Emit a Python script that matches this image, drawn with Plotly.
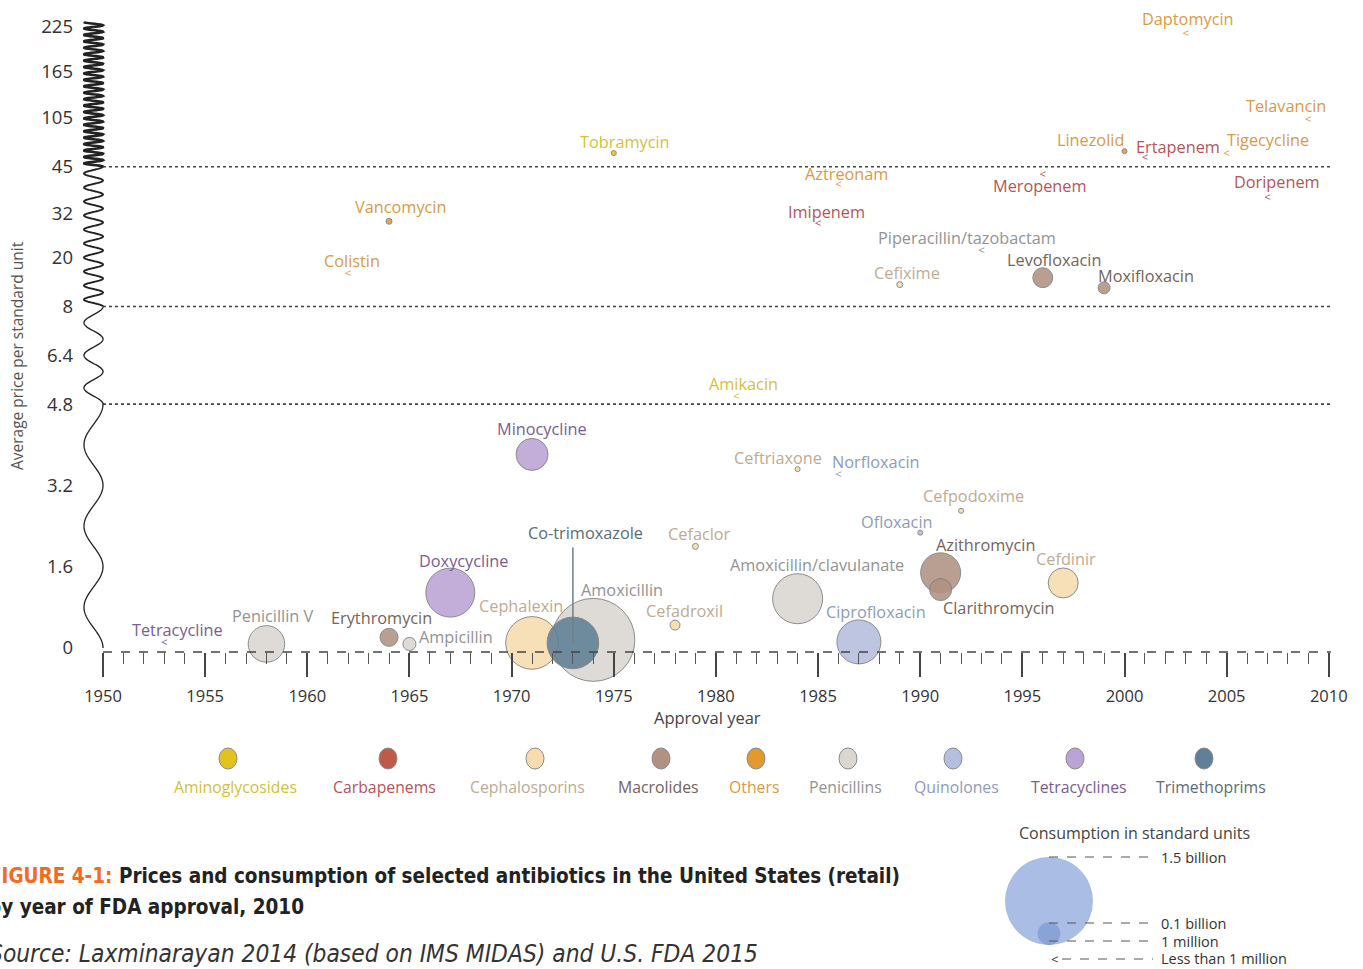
import numpy as np
import plotly.graph_objects as go

# ---------------- data ----------------
DRUGS = ["Tetracycline", "Penicillin V", "Erythromycin", "Ampicillin", "Doxycycline",
         "Minocycline", "Cephalexin", "Co-trimoxazole", "Amoxicillin", "Cefadroxil",
         "Cefaclor", "Ceftriaxone", "Amoxicillin/clavulanate", "Norfloxacin", "Ciprofloxacin",
         "Ofloxacin", "Azithromycin", "Clarithromycin", "Cefpodoxime", "Cefdinir",
         "Amikacin", "Cefixime", "Piperacillin/tazobactam", "Levofloxacin", "Moxifloxacin",
         "Imipenem", "Aztreonam", "Tobramycin", "Vancomycin", "Colistin",
         "Meropenem", "Linezolid", "Ertapenem", "Tigecycline", "Telavancin",
         "Doripenem", "Daptomycin"]
APPROVAL_YEARS = [1953, 1958, 1964, 1965, 1967,
                  1971, 1971, 1973, 1974, 1978,
                  1979, 1984, 1984, 1986, 1987,
                  1990, 1991, 1991, 1992, 1997,
                  1981, 1989, 1993, 1996, 1999,
                  1985, 1986, 1975, 1964, 1962,
                  1996, 2000, 2001, 2005, 2009,
                  2007, 2003]
PRICES = [0.10, 0.08, 0.21, 0.08, 1.09,
          3.81, 0.10, 0.10, 0.16, 0.45,
          2.00, 3.52, 0.97, 3.40, 0.12,
          2.27, 1.48, 1.15, 2.70, 1.28,
          5.04, 13.4, 21.7, 15.1, 12.6,
          28.9, 39.9, 61.5, 29.8, 15.9,
          42.6, 63.8, 55.6, 60.3, 101.5,
          36.3, 215.0]
CLASSES = ["Tetracyclines", "Penicillins", "Macrolides", "Penicillins", "Tetracyclines",
           "Tetracyclines", "Cephalosporins", "Trimethoprims", "Penicillins", "Cephalosporins",
           "Cephalosporins", "Cephalosporins", "Penicillins", "Quinolones", "Quinolones",
           "Quinolones", "Macrolides", "Macrolides", "Cephalosporins", "Cephalosporins",
           "Aminoglycosides", "Cephalosporins", "Penicillins", "Macrolides", "Macrolides",
           "Carbapenems", "Others", "Aminoglycosides", "Others", "Others",
           "Carbapenems", "Others", "Carbapenems", "Others", "Others",
           "Carbapenems", "Others"]
# consumption in millions of standard units (0 = less than 1 million)
CONSUMPTION_M = [0, 259, 63, 33, 465,
                 198, 536, 516, 1334, 19,
                 7, 3, 484, 0, 375,
                 3, 310, 94, 5, 174,
                 0, 7, 0, 77, 28,
                 0, 0, 5, 7, 0,
                 0, 4, 0, 0, 0,
                 0, 0]

CLASS_NAMES = ["Aminoglycosides", "Carbapenems", "Cephalosporins", "Macrolides", "Others",
               "Penicillins", "Quinolones", "Tetracyclines", "Trimethoprims"]
Y_TICK_VALUES = [0, 1.6, 3.2, 4.8, 6.4, 8, 20, 32, 45, 105, 165, 225]
Y_TICK_LABELS = ["0", "1.6", "3.2", "4.8", "6.4", "8", "20", "32", "45", "105", "165", "225"]
REFERENCE_PRICES = [4.8, 8, 45]
SIZE_LEGEND_M = [1500, 100]
SIZE_LEGEND_LABELS = ["1.5 billion", "0.1 billion", "1 million", "Less than 1 million"]

TITLE_1 = "Prices and consumption of selected antibiotics in the United States (retail)"
TITLE_2 = "by year of FDA approval, 2010"
SOURCE = "Source: Laxminarayan 2014 (based on IMS MIDAS) and U.S. FDA 2015"

# ---------------- styles ----------------
MARKER_COLORS = {
    "Aminoglycosides": "#e2c31e", "Carbapenems": "#bf5a49", "Cephalosporins": "#f6dcae",
    "Macrolides": "#b09282", "Others": "#e2992f", "Penicillins": "#dad6d0",
    "Quinolones": "#b5bedd", "Tetracyclines": "#bba3d6", "Trimethoprims": "#5f8096"}
LABEL_COLORS = {
    "Aminoglycosides": "#d3bf3a", "Carbapenems": "#b5545a", "Cephalosporins": "#bdab92",
    "Macrolides": "#74645c", "Others": "#d99a45", "Penicillins": "#939393",
    "Quinolones": "#8d9bbd", "Tetracyclines": "#785e90", "Trimethoprims": "#5b6b78"}
LABEL_OFFSETS = {  # label-centre offset from mark, in pixels (dx right, dy down)
    "Tetracycline": (13, -13), "Penicillin V": (6, -28), "Erythromycin": (-8, -19),
    "Ampicillin": (47, -7), "Doxycycline": (13, -32), "Minocycline": (10, -25),
    "Cephalexin": (-11, -37), "Co-trimoxazole": (13, -110), "Amoxicillin": (29, -50),
    "Cefadroxil": (9, -14), "Cefaclor": (4, -12), "Ceftriaxone": (-20, -11),
    "Amoxicillin/clavulanate": (19, -34), "Norfloxacin": (38, -13), "Ciprofloxacin": (17, -30),
    "Ofloxacin": (-23, -11), "Azithromycin": (45, -28), "Clarithromycin": (58, 18),
    "Cefpodoxime": (12, -15), "Cefdinir": (3, -24), "Amikacin": (7, -13), "Cefixime": (7, -12),
    "Piperacillin/tazobactam": (-14, -13), "Levofloxacin": (11, -18), "Moxifloxacin": (42, -12),
    "Imipenem": (8, -13), "Aztreonam": (8, -11), "Tobramycin": (11, -11), "Vancomycin": (11, -14),
    "Colistin": (4, -13), "Meropenem": (-3, 11), "Linezolid": (-34, -11), "Ertapenem": (33, -11),
    "Tigecycline": (41, -14), "Telavancin": (-22, -14), "Doripenem": (9, -16), "Daptomycin": (2, -15)}

FONT = "Open Sans, Lato, sans-serif"
DARK = "#333333"
W, H = 1363, 969
ML, MR, MT, MB = 83, 14, 10, 317
PX_PER_YEAR = 20.43
X0 = 1950 - (103 - ML) / PX_PER_YEAR
X1 = X0 + (W - ML - MR) / PX_PER_YEAR
# broken price scale: linear 0-4.8, then equal steps between listed ticks
Y_TICK_POS = [0, 1, 2, 3, 3.6, 4.2, 4.8, 5.35, 5.92, 6.53, 7.09, 7.64]
PX_PER_UNIT = 81.3
Y0 = -(652 - 648) / PX_PER_UNIT
Y1 = Y0 + (H - MT - MB) / PX_PER_UNIT


def yscale(v):
    return np.interp(v, Y_TICK_VALUES, Y_TICK_POS)


def paper(px, py):
    return (px - ML) / (W - ML - MR), (H - MB - py) / (H - MT - MB)


def note(px, py, text, size, color, xanchor="center", family=FONT, **kw):
    x, y = paper(px, py)
    d = dict(x=x, y=y, xref="paper", yref="paper", text=text, showarrow=False,
             xanchor=xanchor, yanchor="middle", font=dict(family=family, size=size, color=color))
    d.update(kw)
    return d


years = np.array(APPROVAL_YEARS, dtype=float)
ypos = yscale(np.array(PRICES))
cons = np.array(CONSUMPTION_M, dtype=float)
classes = np.array(CLASSES)
diam = np.where(cons > 0, np.maximum(88 * np.sqrt(cons / 1500.0), 5), 0)

fig = go.Figure()

# bubbles (largest first so smaller ones sit on top)
has = np.where(cons > 0)[0]
order = has[np.argsort(-cons[has], kind="stable")]
fig.add_trace(go.Scatter(
    x=years[order], y=ypos[order], mode="markers",
    marker=dict(size=diam[order], sizemode="diameter",
                color=[MARKER_COLORS[c] for c in classes[order]], opacity=0.88,
                line=dict(color="#7d7d7d", width=1)),
    text=[DRUGS[i] for i in order], hoverinfo="text", showlegend=False, cliponaxis=False))

# "<" marks for less than one million
less = np.where(cons == 0)[0]
fig.add_trace(go.Scatter(
    x=years[less], y=ypos[less], mode="text", text=["<"] * len(less),
    textfont=dict(family=FONT, size=11.5, color=[LABEL_COLORS[c] for c in classes[less]]),
    hoverinfo="skip", showlegend=False, cliponaxis=False))

annotations = []
shapes = []

# drug labels
for i, name in enumerate(DRUGS):
    dx, dy = LABEL_OFFSETS[name]
    annotations.append(dict(x=years[i], y=ypos[i], xref="x", yref="y", text=name,
                            showarrow=False, xshift=dx, yshift=-dy, xanchor="center",
                            yanchor="middle",
                            font=dict(family=FONT, size=16.3, color=LABEL_COLORS[CLASSES[i]])))
# co-trimoxazole leader line
ic = DRUGS.index("Co-trimoxazole")
annotations.append(dict(x=years[ic], y=ypos[ic], xref="x", yref="y", text="",
                        showarrow=True, ax=0, ay=-97, arrowhead=0, arrowwidth=1.5,
                        arrowcolor="#6f7f8a", standoff=0, startstandoff=0))

# reference dotted lines
for p in REFERENCE_PRICES:
    shapes.append(dict(type="line", xref="x", yref="y", x0=1950, x1=2010.1,
                       y0=yscale(p), y1=yscale(p), line=dict(color="#444", width=1.6, dash="dot")))
# baseline
shapes.append(dict(type="line", xref="x", yref="paper", x0=1950, x1=2010.1, y0=0, y1=0,
                   line=dict(color="#444", width=1.4, dash="dash")))

# wavy broken axis
A = 9.5 / PX_PER_YEAR
segs = [(0.0, 3.0, 1.0, 1.3), (3.0, 4.2, 0.4, 1.4), (4.2, 5.92, 0.1723, 1.9), (5.92, 7.70, 0.079, 2.6)]
phase0 = 0.0
for lo, hi, period, lw in segs:
    yy = np.linspace(lo, hi, 400)
    ph = phase0 + 2 * np.pi * (yy - lo) / period
    xx = 1950 - A + A * np.cos(ph)
    phase0 = ph[-1]
    path = "M " + " L ".join(f"{a:.4f},{b:.4f}" for a, b in zip(xx, yy))
    shapes.append(dict(type="path", xref="x", yref="y", path=path,
                       line=dict(color="#222", width=lw)))

# axis titles
annotations.append(note(17, 356, "Average price per standard unit", 15.5, "#555", textangle=-90))
annotations.append(note(707, 718, "Approval year", 16.5, "#444"))

# class legend
LEG_X = [228, 388, 535, 661, 756, 848, 953, 1075, 1204]
LEG_TX = [235, 384, 527, 658, 754, 845, 956, 1079, 1211]
for cname, lx, tx in zip(CLASS_NAMES, LEG_X, LEG_TX):
    x0p, y0p = paper(lx - 9, 769)
    x1p, y1p = paper(lx + 9, 748)
    shapes.append(dict(type="circle", xref="paper", yref="paper", x0=x0p, x1=x1p, y0=y0p, y1=y1p,
                       fillcolor=MARKER_COLORS[cname], line=dict(color="#8a8a8a", width=1)))
    annotations.append(note(tx, 787, cname, 15.8, LABEL_COLORS[cname]))

# size legend
annotations.append(note(1134, 833, "Consumption in standard units", 16, "#444"))
for m, col in zip(SIZE_LEGEND_M, ["#aabde4", "#8aa3d6"]):
    r = 44 * np.sqrt(m / 1500.0)
    cx, cy = 1049, 945 - r
    a = paper(cx - r, cy + r)
    b = paper(cx + r, cy - r)
    shapes.append(dict(type="circle", xref="paper", yref="paper", x0=a[0], y0=a[1], x1=b[0], y1=b[1],
                       fillcolor=col, line=dict(width=0)))
LEG_LINE_Y = [857, 923, 941, 959]
LEG_LINE_X0 = [1049, 1049, 1049, 1062]
for lab, yy, xs in zip(SIZE_LEGEND_LABELS, LEG_LINE_Y, LEG_LINE_X0):
    a = paper(xs, yy)
    b = paper(1153, yy)
    shapes.append(dict(type="line", xref="paper", yref="paper", x0=a[0], y0=a[1], x1=b[0], y1=b[1],
                       line=dict(color="#555", width=1, dash="dash")))
    annotations.append(note(1159, yy, lab, 14.5, DARK, xanchor="left"))
annotations.append(note(1054, 959, "<", 13, DARK))

# title block (cut at left edge like the source page)
TFONT = "DejaVu Sans Condensed, Liberation Sans Narrow, sans-serif"
annotations.append(note(-13, 876, "<b><span style='color:#f26b21'>FIGURE 4-1:</span> " + TITLE_1 + "</b>",
                        20.5, "#222", xanchor="left", family=TFONT))
annotations.append(note(-14, 907, "<b>" + TITLE_2 + "</b>", 20.5, "#222", xanchor="left", family=TFONT))
annotations.append(note(-13, 953, "<i>" + SOURCE + "</i>", 24.3, "#333", xanchor="left", family=TFONT))

fig.update_layout(
    width=W, height=H, margin=dict(l=ML, r=MR, t=MT, b=MB),
    paper_bgcolor="white", plot_bgcolor="white",
    font=dict(family=FONT, color=DARK),
    xaxis=dict(range=[X0, X1], tickmode="array", tickvals=list(range(1950, 2011, 5)),
               ticks="outside", ticklen=24, tickwidth=1.6, tickcolor="#444",
               minor=dict(dtick=1, tick0=1950, ticks="outside", ticklen=11, tickwidth=1.2, tickcolor="#555"),
               showgrid=False, zeroline=False, showline=False,
               tickfont=dict(family=FONT, size=16.5, color=DARK), ticklabelstandoff=5),
    yaxis=dict(range=[Y0, Y1], tickmode="array", tickvals=Y_TICK_POS, ticktext=Y_TICK_LABELS,
               ticks="", showgrid=False, zeroline=False, showline=False,
               tickfont=dict(family=FONT, size=18.5, color=DARK), ticklabelstandoff=9),
    shapes=shapes, annotations=annotations, showlegend=False,
)

fig.write_html("out.html", config={"displayModeBar": False},
               post_script="document.body.style.margin='0px';document.body.style.overflow='hidden';")
